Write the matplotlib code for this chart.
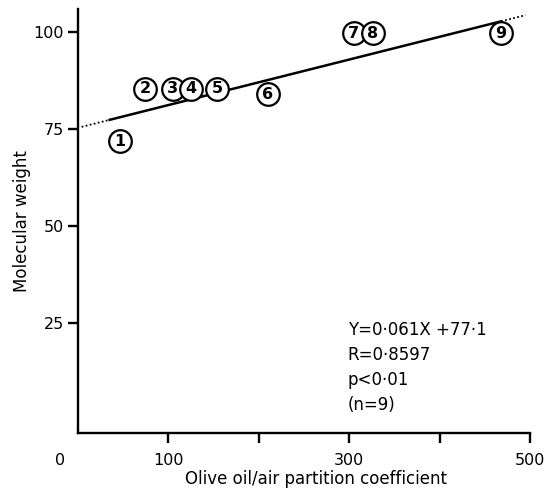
import matplotlib
matplotlib.use("Agg")
import matplotlib.pyplot as plt
import numpy as np

# ---- data ----
point_labels = ["1", "2", "3", "4", "5", "6", "7", "8", "9"]
partition_coef = [46.5, 74, 105, 125, 154, 210, 305, 326, 468]
molecular_weight = [71.9, 85.3, 85.3, 85.3, 85.3, 83.9, 99.6, 99.6, 99.6]

# regression line as drawn in the figure
fit_slope = 0.0586
fit_intercept = 75.3
fit_extent = [4, 495]        # dotted extrapolation limits
fit_solid = [35, 468]        # solid part

x_ticks = [100, 200, 300, 400, 500]
x_ticklabels = ["100", "", "300", "", "500"]
y_ticks = [25, 50, 75, 100]
y_ticklabels = ["25", "50", "75", "100"]

stats_lines = ["Y=0·061X +77·1", "R=0·8597", "p<0·01", "(n=9)"]

# ---- figure ----
plt.rcParams['font.family'] = ['DejaVu Sans']
fig = plt.figure(figsize=(5.47, 4.88), dpi=100)
W, H = 547, 488
ax = fig.add_axes([78 / W, 1 - 432.6 / H, (530 - 78) / W, (432.6 - 9) / H])
ax.set_xlim(0, 500)
ax.set_ylim(-3.2, 105.9)

for s in ["top", "right"]:
    ax.spines[s].set_visible(False)
for s in ["left", "bottom"]:
    ax.spines[s].set_linewidth(1.7)

ax.set_xticks(x_ticks)
ax.set_xticklabels(x_ticklabels)
ax.set_yticks(y_ticks)
ax.set_yticklabels(y_ticklabels)
ax.tick_params(axis="both", direction="out", length=7, width=1.7, labelsize=11.5, color="black")
ax.tick_params(axis="x", pad=8)
ax.tick_params(axis="y", pad=3)

# '0' label placed left of the axes corner
ax.annotate("0", xy=(0, 0), xycoords=("data", "axes fraction"),
            xytext=(-13, -15), textcoords="offset points",
            ha="center", va="top", fontsize=11.5)

ax.set_xlabel("Olive oil/air partition coefficient", fontsize=12)
ax.set_ylabel("Molecular weight", fontsize=12)
ax.xaxis.set_label_coords(0.527, -0.088)
ax.yaxis.set_label_coords(-0.105, 0.5)

# regression line
def fit(x):
    return fit_intercept + fit_slope * np.asarray(x)

xd1 = np.array([fit_extent[0], fit_solid[0]])
xs = np.array(fit_solid)
xd2 = np.array([fit_solid[1], fit_extent[1]])
ax.plot(xd1, fit(xd1), color="black", lw=1.3, linestyle=(0, (1, 1.3)), zorder=2, clip_on=False)
ax.plot(xs, fit(xs), color="black", lw=1.8, zorder=2, clip_on=False)
ax.plot(xd2, fit(xd2), color="black", lw=1.3, linestyle=(0, (1, 1.3)), zorder=2, clip_on=False)

# circled numbers
for i, (lab, x, y) in enumerate(zip(point_labels, partition_coef, molecular_weight)):
    ax.scatter([x], [y], s=265, facecolor="white", edgecolor="black",
               linewidth=1.6, zorder=3 + i, clip_on=False)
    ax.text(x, y, lab, ha="center", va="center", fontsize=11.5,
            fontweight="bold", zorder=3 + i + 0.5)

# statistics text
for j, line in enumerate(stats_lines):
    ax.text(0.597, (432.6 - (335 + 25 * j)) / 423.6, line, transform=ax.transAxes,
            fontsize=12, ha="left", va="baseline")

fig.savefig("out.png", dpi=100)
